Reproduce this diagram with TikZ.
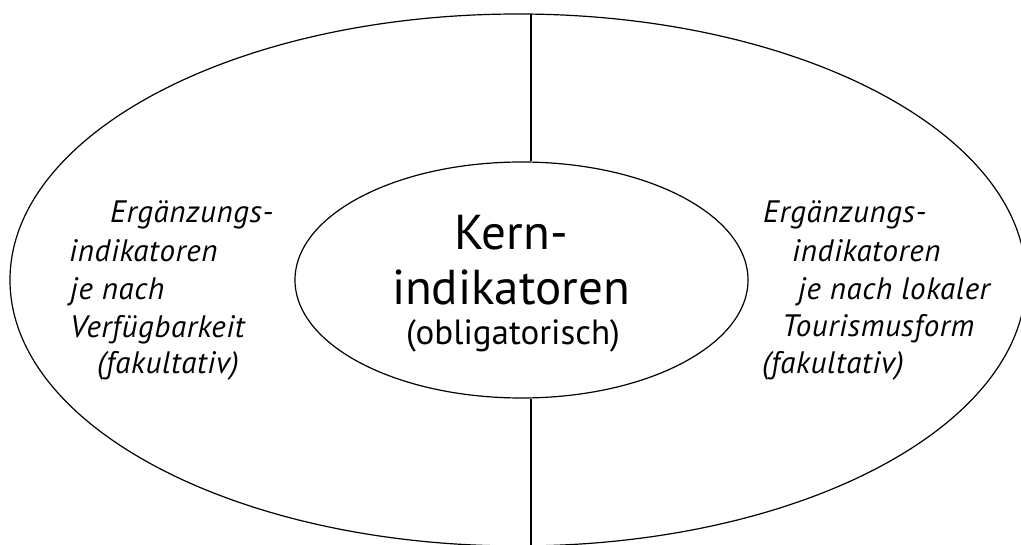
\documentclass[tikz,border=0pt]{standalone}
\usepackage{fontspec}
\setmainfont{PT Sans}
\usetikzlibrary{shapes.geometric}

\tikzset{
  ring/.style={draw, ellipse, line width=1.2pt, inner sep=0pt},
  side/.style={anchor=base west, inner sep=0pt,
    font=\fontsize{31}{38}\selectfont\itshape\addfontfeature{LetterSpace=2}},
  core/.style={anchor=base, inner sep=0pt},
  divider/.style={line width=1.2pt}
}

\begin{document}
\begin{tikzpicture}[x=1pt, y=-1pt]
  \useasboundingbox (0,0) rectangle (1021,545);

  % the two rings
  \node[ring, minimum width=1016pt, minimum height=532pt] (outer) at (518,280) {};
  \node[ring, minimum width=453pt, minimum height=236pt] (inner) at (521.5,280) {};

  % vertical divider, broken by the inner ring
  \coordinate (top) at (531,14);
  \coordinate (bot) at (531,548);
  \draw[divider] (top) -- (top |- inner.north);
  \draw[divider] (top |- inner.south) -- (bot);

  % centre text
  \node[core, font=\fontsize{49}{55}\selectfont] (c1) at (511,250) {Kern-};
  \node[core, font=\fontsize{49}{55}\selectfont] (c2) at (511,305) {indikatoren};
  \node[core, font=\fontsize{35}{40}\selectfont] (c3) at (513,345) {(obligatorisch)};

  % left block
  \node[side] (l1) at (110,223) {Ergänzungs-};
  \node[side] (l2) at (69,262)  {indikatoren};
  \node[side] (l3) at (70,300)  {je nach};
  \node[side] (l4) at (70,338)  {Verfügbarkeit};
  \node[side] (l5) at (97,374)  {(fakultativ)};

  % right block
  \node[side] (r1) at (763,223) {Ergänzungs-};
  \node[side] (r2) at (792,262) {indikatoren};
  \node[side] (r3) at (798,300) {je nach lokaler};
  \node[side] (r4) at (782,337) {Tourismusform};
  \node[side] (r5) at (762,374) {(fakultativ)};
\end{tikzpicture}
\end{document}
